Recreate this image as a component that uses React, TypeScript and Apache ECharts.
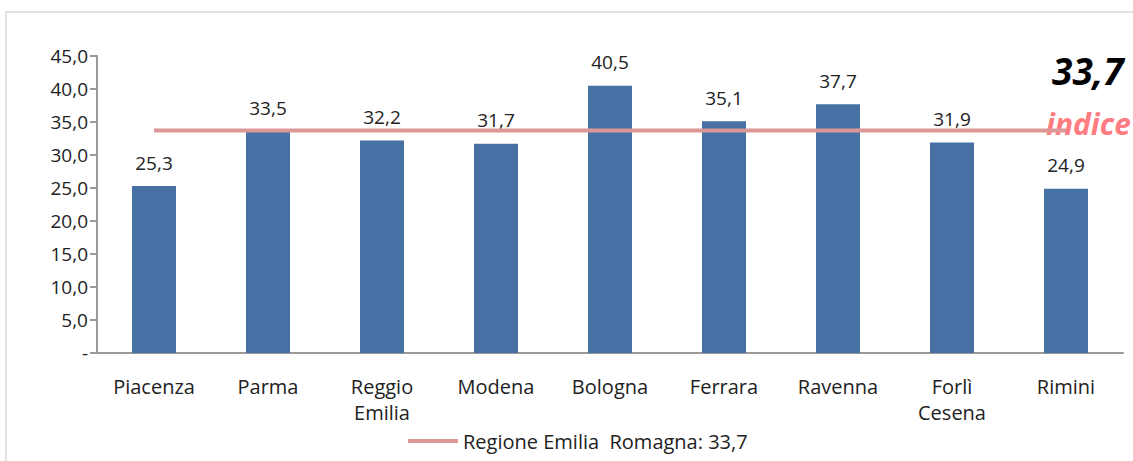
import React, { useEffect, useRef } from "react";
import * as echarts from "echarts";

const categories = ["Piacenza", "Parma", "Reggio\nEmilia", "Modena", "Bologna", "Ferrara", "Ravenna", "Forlì\nCesena", "Rimini"];
const values = [25.3, 33.5, 32.2, 31.7, 40.5, 35.1, 37.7, 31.9, 24.9];
const regionValue = 33.7;
const regionName = "Regione Emilia  Romagna: 33,7";
const bigLabel = "33,7";
const subLabel = "indice";

const fmt = (v: number) => (v === 0 ? "-" : v.toFixed(1).replace(".", ","));
const FONT = "'Open Sans', 'Noto Sans', sans-serif";

export default function App() {
  const ref = useRef<HTMLDivElement>(null);
  useEffect(() => {
    const chart = echarts.init(ref.current!, null, { renderer: "svg" });
    chart.setOption({
      animation: false,
      backgroundColor: "#ffffff",
      textStyle: { fontFamily: FONT },
      grid: { left: 97, right: 10, top: 56, bottom: 108, containLabel: false },
      legend: {
        left: 403,
        top: 426,
        itemWidth: 50,
        itemHeight: 4,
        itemGap: 7,
        data: [{ name: regionName, icon: "rect" }],
        textStyle: { fontSize: 20, color: "#222", fontFamily: FONT },
      },
      xAxis: {
        type: "category",
        data: categories,
        axisLine: { lineStyle: { color: "#9a9a9a", width: 2 } },
        axisTick: { show: false },
        axisLabel: { fontSize: 20, color: "#222", margin: 20, lineHeight: 26, fontFamily: FONT, interval: 0 },
      },
      yAxis: {
        type: "value",
        min: 0,
        max: 45,
        interval: 5,
        splitLine: { show: false },
        axisLine: { show: true, lineStyle: { color: "#9a9a9a", width: 2 } },
        axisTick: { show: true, length: 7, lineStyle: { color: "#9a9a9a", width: 2 } },
        axisLabel: { fontSize: 19, color: "#222", margin: 9, formatter: fmt, fontFamily: FONT },
      },
      series: [
        {
          type: "bar",
          data: values,
          barWidth: 44,
          itemStyle: { color: "#4771A5" },
          label: {
            show: true,
            position: "top",
            distance: 14,
            fontSize: 19,
            color: "#222",
            fontFamily: FONT,
            formatter: (p: any) => fmt(p.value),
          },
          z: 2,
        },
        {
          type: "line",
          name: regionName,
          data: values.map(() => regionValue),
          symbol: "none",
          lineStyle: { color: "#DB9896", width: 4 },
          itemStyle: { color: "#DB9896" },
          z: 3,
        },
      ],
      graphic: [
        {
          type: "rect",
          shape: { x: 6, y: 12, width: 1200, height: 600 },
          style: { fill: "none", stroke: "#e2e2e2", lineWidth: 2 },
          silent: true,
          z: -1,
        },
        {
          type: "text",
          left: 1052,
          top: 52,
          style: { text: bigLabel, fontSize: 37, fontWeight: "bold", fontStyle: "italic", fill: "#000", fontFamily: FONT },
        },
        {
          type: "text",
          left: 1046,
          top: 108,
          style: { text: subLabel, fontSize: 30, fontWeight: "bold", fontStyle: "italic", fill: "#FF7C80", fontFamily: FONT },
        },
      ],
    });
    return () => chart.dispose();
  }, []);
  return <div ref={ref} style={{ width: 1133, height: 461, position: "absolute", left: 0, top: 0 }} />;
}
